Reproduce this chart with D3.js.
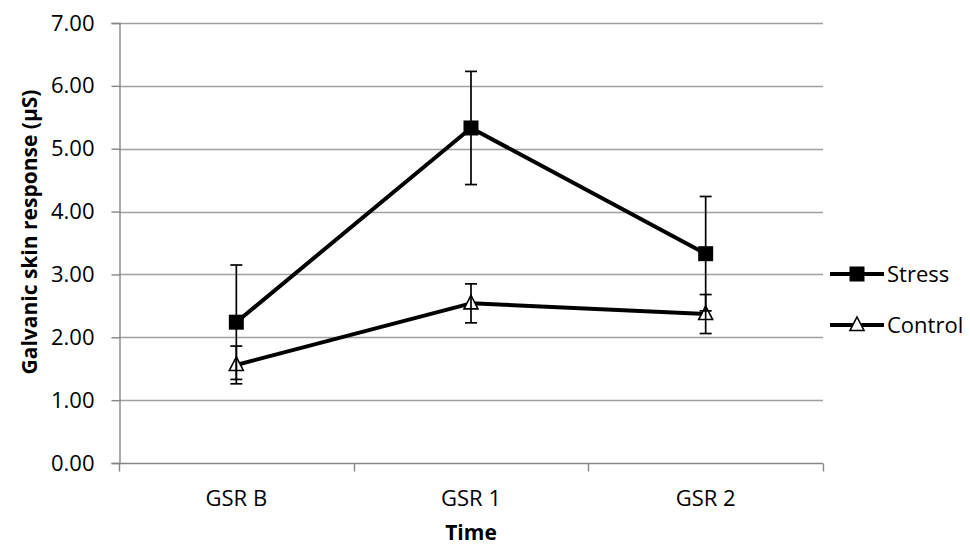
<!DOCTYPE html>
<html><head><meta charset="utf-8">
<script src="https://cdn.jsdelivr.net/npm/d3@7"></script>
<style>body{margin:0;background:#fff}svg{display:block}text{font-family:"Open Sans",sans-serif;fill:#000}</style>
</head><body><svg width="970" height="547"></svg>
<script>
const categories = ["GSR B", "GSR 1", "GSR 2"];
const stress = [2.24, 5.33, 3.33];
const stressErr = [0.91, 0.90, 0.91];
const control = [1.56, 2.54, 2.37];
const controlErr = [0.30, 0.31, 0.31];
const yTicks = [0, 1, 2, 3, 4, 5, 6, 7];
const seriesNames = ["Stress", "Control"];

const svg = d3.select("svg");
const L = 119, R = 823, T = 23, B = 463;
const x = d3.scalePoint().domain(categories).range([L, R]).padding(0.5);
const y = d3.scaleLinear().domain([0, 7]).range([B, T]);

// gridlines
svg.append("g").selectAll("line").data(yTicks.filter(d => d > 0)).join("line")
  .attr("x1", L).attr("x2", R).attr("y1", d => Math.round(y(d)) + 0.5).attr("y2", d => Math.round(y(d)) + 0.5)
  .attr("stroke", "#a0a0a0").attr("stroke-width", 1.4);

// y axis
const ya = svg.append("g").attr("transform", `translate(${L + 0.5},0)`)
  .call(d3.axisLeft(y).tickValues(yTicks).tickFormat(d3.format(".2f")).tickSize(8).tickPadding(17));
ya.select(".domain").attr("stroke", "#868686").attr("stroke-width", 1.4);
ya.selectAll(".tick line").attr("stroke", "#868686").attr("stroke-width", 1.4);
ya.selectAll("text").attr("font-size", 22).attr("font-family", "Open Sans");

// x axis
const bandEdges = [L, L + (R - L) / 3, L + 2 * (R - L) / 3, R];
const xa = svg.append("g").attr("transform", `translate(0,${B + 0.5})`);
xa.append("line").attr("x1", L).attr("x2", R).attr("stroke", "#868686").attr("stroke-width", 1.4);
xa.selectAll("line.t").data(bandEdges).join("line").attr("class", "t")
  .attr("x1", d => Math.round(d) + 0.5).attr("x2", d => Math.round(d) + 0.5).attr("y1", 0).attr("y2", 8)
  .attr("stroke", "#868686").attr("stroke-width", 1.4);
xa.selectAll("text").data(categories).join("text")
  .attr("x", d => x(d)).attr("y", 42).attr("text-anchor", "middle").attr("font-size", 22).text(d => d);

// axis titles
svg.append("text").attr("x", 471).attr("y", 540).attr("text-anchor", "middle")
  .attr("font-size", 21).attr("font-weight", "bold").text("Time");
svg.append("text").attr("transform", "translate(37,232) rotate(-90)").attr("text-anchor", "middle")
  .attr("font-size", 21).attr("font-weight", "bold").text("Galvanic skin response (µS)");

const line = d3.line().x((d, i) => x(categories[i])).y(d => y(d));
const series = [
  {name: "Stress", vals: stress, err: stressErr},
  {name: "Control", vals: control, err: controlErr}
];

series.forEach(s => {
  svg.append("path").datum(s.vals).attr("d", line).attr("fill", "none")
    .attr("stroke", "#000").attr("stroke-width", 4).attr("stroke-linejoin", "round");
});

function marker(g, name, cx, cy) {
  if (name === "Stress") {
    g.append("rect").attr("x", cx - 7.5).attr("y", cy - 7.5).attr("width", 15).attr("height", 15).attr("fill", "#000");
  } else {
    g.append("path").attr("d", `M${cx},${cy - 8}L${cx + 7},${cy + 5.5}L${cx - 7},${cy + 5.5}Z`)
      .attr("fill", "#fff").attr("stroke", "#000").attr("stroke-width", 1.6);
  }
}
series.forEach(s => {
  s.vals.forEach((v, i) => marker(svg, s.name, x(categories[i]), y(v)));
});

// error bars
series.forEach(s => {
  const g = svg.append("g").attr("stroke", "#000").attr("stroke-width", 1.7);
  s.vals.forEach((v, i) => {
    const cx = x(categories[i]);
    const y1 = y(v + s.err[i]), y0 = y(v - s.err[i]);
    g.append("line").attr("x1", cx).attr("x2", cx).attr("y1", y1).attr("y2", y0);
    g.append("line").attr("x1", cx - 6).attr("x2", cx + 6).attr("y1", y1).attr("y2", y1);
    g.append("line").attr("x1", cx - 6).attr("x2", cx + 6).attr("y1", y0).attr("y2", y0);
  });
});

// legend
const lg = svg.append("g");
seriesNames.forEach((n, i) => {
  const ly = 274 + i * 51;
  lg.append("line").attr("x1", 830).attr("x2", 884).attr("y1", ly).attr("y2", ly)
    .attr("stroke", "#000").attr("stroke-width", 4);
  marker(lg, n, 857, ly);
  lg.append("text").attr("x", 887).attr("y", ly + 8).attr("font-size", 22).text(n);
});
</script></body></html>
